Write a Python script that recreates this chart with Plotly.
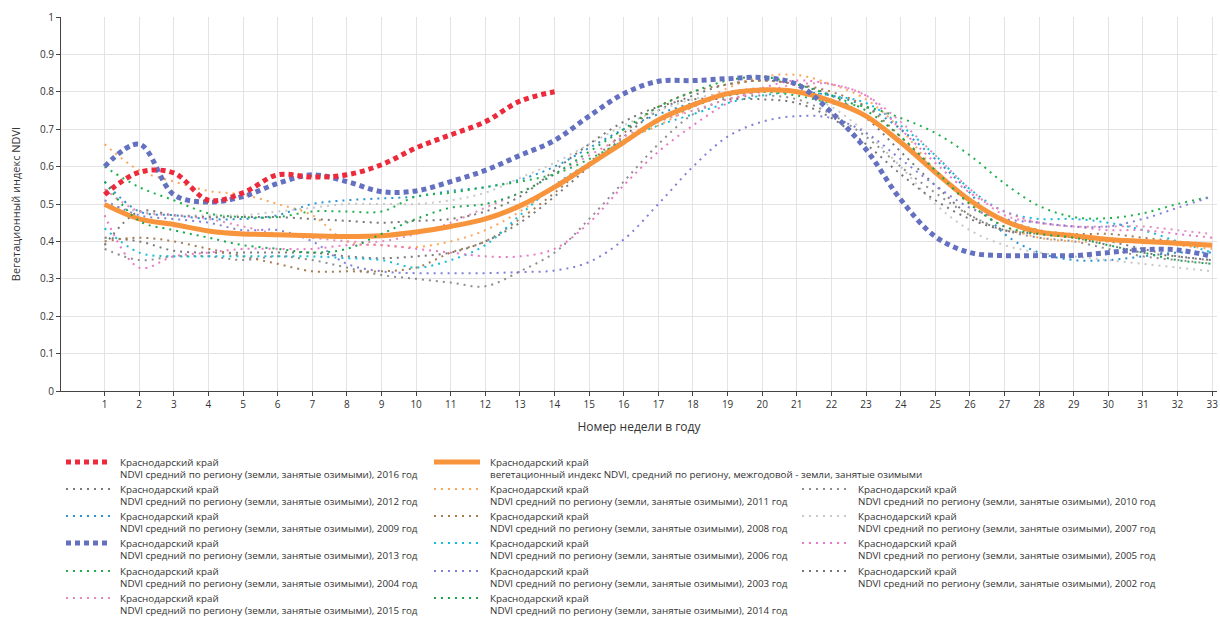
import plotly.graph_objects as go

WEEKS = list(range(1, 34))
REGION = "Краснодарский край"
SUFFIX = "NDVI средний по региону (земли, занятые озимыми), {} год"
MEAN_LABEL = "вегетационный индекс NDVI, средний по региону, межгодовой - земли, занятые озимыми"

ndvi_2016 = [0.525, 0.585, 0.583, 0.51, 0.53, 0.578, 0.572, 0.578, 0.605, 0.65, 0.685, 0.72, 0.775, 0.80]
ndvi_mean = [0.499, 0.46, 0.445, 0.428, 0.42, 0.418, 0.415, 0.413, 0.415, 0.425, 0.44, 0.46, 0.495, 0.545,
             0.605, 0.665, 0.725, 0.765, 0.795, 0.805, 0.80, 0.775, 0.735, 0.665, 0.585, 0.51, 0.455, 0.425,
             0.415, 0.405, 0.40, 0.395, 0.39]
ndvi_2012 = [0.41, 0.40, 0.375, 0.37, 0.37, 0.37, 0.37, 0.36, 0.355, 0.36, 0.37, 0.40, 0.45, 0.52, 0.60, 0.68,
             0.75, 0.79, 0.82, 0.83, 0.82, 0.79, 0.73, 0.64, 0.55, 0.47, 0.43, 0.42, 0.41, 0.40, 0.38, 0.36, 0.35]
ndvi_2011 = [0.66, 0.59, 0.56, 0.535, 0.525, 0.50, 0.47, 0.40, 0.39, 0.385, 0.40, 0.43, 0.48, 0.545, 0.61, 0.67,
             0.71, 0.76, 0.81, 0.84, 0.845, 0.82, 0.78, 0.70, 0.59, 0.50, 0.44, 0.41, 0.40, 0.40, 0.40, 0.39, 0.38]
ndvi_2010 = [0.38, 0.35, 0.36, 0.36, 0.35, 0.36, 0.35, 0.33, 0.31, 0.30, 0.29, 0.28, 0.32, 0.37, 0.46, 0.56,
             0.66, 0.74, 0.78, 0.79, 0.78, 0.74, 0.68, 0.60, 0.53, 0.47, 0.43, 0.41, 0.40, 0.38, 0.36, 0.35, 0.34]
ndvi_2009 = [0.56, 0.48, 0.47, 0.46, 0.46, 0.47, 0.50, 0.51, 0.515, 0.52, 0.535, 0.545, 0.565, 0.60, 0.65, 0.70,
             0.74, 0.77, 0.79, 0.80, 0.80, 0.79, 0.76, 0.70, 0.62, 0.53, 0.42, 0.37, 0.35, 0.35, 0.36, 0.37, 0.37]
ndvi_2008 = [0.40, 0.41, 0.40, 0.38, 0.36, 0.34, 0.32, 0.32, 0.32, 0.33, 0.37, 0.40, 0.46, 0.53, 0.61, 0.69,
             0.76, 0.80, 0.82, 0.83, 0.82, 0.80, 0.76, 0.68, 0.59, 0.51, 0.46, 0.43, 0.42, 0.42, 0.41, 0.40, 0.39]
ndvi_2007 = [0.50, 0.48, 0.47, 0.47, 0.47, 0.48, 0.49, 0.50, 0.50, 0.50, 0.51, 0.53, 0.57, 0.61, 0.66, 0.71,
             0.75, 0.78, 0.80, 0.81, 0.80, 0.76, 0.69, 0.60, 0.50, 0.43, 0.39, 0.37, 0.36, 0.35, 0.34, 0.33, 0.32]
ndvi_2013 = [0.60, 0.66, 0.525, 0.505, 0.52, 0.555, 0.578, 0.56, 0.533, 0.535, 0.56, 0.59, 0.63, 0.67, 0.735,
             0.795, 0.828, 0.83, 0.835, 0.838, 0.82, 0.745, 0.646, 0.512, 0.413, 0.37, 0.362, 0.362, 0.362,
             0.37, 0.378, 0.377, 0.36]
ndvi_2006 = [0.435, 0.37, 0.36, 0.36, 0.36, 0.36, 0.36, 0.355, 0.35, 0.33, 0.35, 0.39, 0.47, 0.55, 0.61, 0.67,
             0.71, 0.74, 0.77, 0.79, 0.80, 0.79, 0.77, 0.71, 0.63, 0.54, 0.48, 0.46, 0.46, 0.45, 0.43, 0.40, 0.37]
ndvi_2005 = [0.47, 0.33, 0.36, 0.37, 0.38, 0.38, 0.38, 0.39, 0.39, 0.38, 0.37, 0.36, 0.36, 0.38, 0.45, 0.55,
             0.64, 0.71, 0.77, 0.81, 0.83, 0.82, 0.79, 0.70, 0.61, 0.53, 0.48, 0.45, 0.44, 0.43, 0.43, 0.42, 0.41]
ndvi_2004 = [0.60, 0.545, 0.51, 0.475, 0.465, 0.465, 0.48, 0.48, 0.48, 0.52, 0.53, 0.545, 0.56, 0.58, 0.62, 0.67,
             0.72, 0.76, 0.79, 0.80, 0.79, 0.77, 0.76, 0.73, 0.69, 0.63, 0.555, 0.495, 0.465, 0.462, 0.475, 0.50, 0.52]
ndvi_2003 = [0.51, 0.47, 0.46, 0.45, 0.43, 0.43, 0.40, 0.34, 0.32, 0.315, 0.315, 0.315, 0.318, 0.322, 0.345,
             0.405, 0.50, 0.60, 0.68, 0.72, 0.735, 0.73, 0.69, 0.62, 0.55, 0.49, 0.46, 0.45, 0.44, 0.44, 0.46,
             0.49, 0.52]
ndvi_2002 = [0.39, 0.48, 0.47, 0.465, 0.465, 0.465, 0.46, 0.455, 0.45, 0.455, 0.46, 0.48, 0.52, 0.59, 0.66, 0.72,
             0.76, 0.78, 0.78, 0.78, 0.77, 0.73, 0.66, 0.58, 0.51, 0.46, 0.43, 0.42, 0.41, 0.39, 0.37, 0.36, 0.35]
ndvi_2015 = [0.54, 0.48, 0.47, 0.46, 0.44, 0.42, 0.41, 0.40, 0.40, 0.42, 0.45, 0.49, 0.53, 0.58, 0.63, 0.68,
             0.72, 0.75, 0.78, 0.80, 0.82, 0.82, 0.79, 0.72, 0.63, 0.54, 0.47, 0.45, 0.44, 0.44, 0.44, 0.43, 0.42]
ndvi_2014 = [0.56, 0.455, 0.43, 0.41, 0.39, 0.38, 0.37, 0.38, 0.42, 0.46, 0.49, 0.50, 0.53, 0.58, 0.64, 0.70,
             0.76, 0.80, 0.83, 0.84, 0.82, 0.79, 0.75, 0.68, 0.59, 0.50, 0.44, 0.42, 0.41, 0.39, 0.37, 0.35, 0.34]

# key -> (label line 2, values, color, kind)
series = {
    "2016": (SUFFIX.format(2016), ndvi_2016, "#ec2a3b", "thick"),
    "mean": (MEAN_LABEL, ndvi_mean, "#f7943c", "solid"),
    "2012": (SUFFIX.format(2012), ndvi_2012, "#7a7a7a", "thin"),
    "2011": (SUFFIX.format(2011), ndvi_2011, "#f9a85a", "thin"),
    "2010": (SUFFIX.format(2010), ndvi_2010, "#8e8e8e", "thin"),
    "2009": (SUFFIX.format(2009), ndvi_2009, "#2a93d0", "thin"),
    "2008": (SUFFIX.format(2008), ndvi_2008, "#a67c52", "thin"),
    "2007": (SUFFIX.format(2007), ndvi_2007, "#c8c8c8", "thin"),
    "2013": (SUFFIX.format(2013), ndvi_2013, "#6470c0", "thick"),
    "2006": (SUFFIX.format(2006), ndvi_2006, "#17bcd6", "thin"),
    "2005": (SUFFIX.format(2005), ndvi_2005, "#e879c6", "thin"),
    "2004": (SUFFIX.format(2004), ndvi_2004, "#20b04b", "thin"),
    "2003": (SUFFIX.format(2003), ndvi_2003, "#8080d8", "thin"),
    "2002": (SUFFIX.format(2002), ndvi_2002, "#777777", "thin"),
    "2015": (SUFFIX.format(2015), ndvi_2015, "#e38dbf", "thin"),
    "2014": (SUFFIX.format(2014), ndvi_2014, "#1aa64a", "thin"),
}

STYLES = {
    "thin": dict(width=2, dash="2px,5px"),
    "thick": dict(width=5, dash="5px,4px"),
    "solid": dict(width=5, dash="solid"),
}

draw_order = ["2012", "2011", "2010", "2009", "2008", "2007", "2006", "2005", "2004", "2003", "2002",
              "2015", "mean", "2014", "2013", "2016"]

fig = go.Figure()
for key in draw_order:
    label, vals, color, kind = series[key]
    fig.add_trace(go.Scatter(
        x=WEEKS[:len(vals)], y=vals, mode="lines", name=REGION + "<br>" + label,
        line=dict(color=color, shape="spline", smoothing=1.0, **STYLES[kind]),
        showlegend=False, hoverinfo="x+y"))

W, H = 1220, 619
L, R, T, B = 61, 3, 17, 228
PW, PH = W - L - R, H - T - B


def px(xp):
    return (xp - L) / PW


def py(yp):
    return (H - B - yp) / PH


legend_layout = [
    ["2016", "2012", "2009", "2013", "2004", "2015"],
    ["mean", "2011", "2008", "2006", "2003", "2014"],
    [None, "2010", "2007", "2005", "2002"],
]
col_sym = [(66, 110), (434, 480), (802, 848)]
col_text = [118, 488, 856]
row_y = [462, 489, 516, 543, 571, 598]

shapes = []
annotations = []
TEXT_FONT = dict(family="Open Sans, sans-serif", size=9.8, color="#333333")
for ci, col in enumerate(legend_layout):
    for ri, key in enumerate(col):
        if key is None:
            continue
        label, vals, color, kind = series[key]
        y0 = row_y[ri]
        shapes.append(dict(type="line", xref="paper", yref="paper",
                           x0=px(col_sym[ci][0]), x1=px(col_sym[ci][1]), y0=py(y0), y1=py(y0),
                           line=dict(color=color, **STYLES[kind])))
        annotations.append(dict(xref="paper", yref="paper", x=px(col_text[ci]), y=py(y0),
                                text=REGION, showarrow=False, xanchor="left", yanchor="middle",
                                font=TEXT_FONT))
        annotations.append(dict(xref="paper", yref="paper", x=px(col_text[ci]), y=py(y0 + 12),
                                text=label, showarrow=False, xanchor="left", yanchor="middle",
                                font=TEXT_FONT))

fig.update_layout(
    width=W, height=H, margin=dict(l=L, r=R, t=T, b=B),
    paper_bgcolor="white", plot_bgcolor="white",
    font=dict(family="Open Sans, sans-serif", size=10, color="#333333"),
    showlegend=False, shapes=shapes, annotations=annotations,
    xaxis=dict(range=[-0.26, 33.14], tickmode="array", tickvals=WEEKS, ticktext=[str(w) for w in WEEKS],
               showgrid=True, gridcolor="#e3e3e3", gridwidth=1, zeroline=False,
               showline=True, linecolor="#444444", linewidth=1, ticks="outside", ticklen=4,
               tickcolor="#444444", tickfont=dict(size=10),
               title=dict(text="Номер недели в году", font=dict(size=12), standoff=12)),
    yaxis=dict(range=[0, 1], tickmode="array", tickvals=[i / 10 for i in range(11)],
               ticktext=["0", "0.1", "0.2", "0.3", "0.4", "0.5", "0.6", "0.7", "0.8", "0.9", "1"],
               showgrid=True, gridcolor="#e3e3e3", gridwidth=1, zeroline=False,
               showline=True, linecolor="#444444", linewidth=1, ticks="outside", ticklen=4,
               tickcolor="#444444", tickfont=dict(size=10),
               title=dict(text="Вегетационный индекс NDVI", font=dict(size=11), standoff=17)),
)

fig.write_html("out.html", config={"displayModeBar": False},
               post_script="document.body.style.margin='0';document.body.style.overflow='hidden';")
